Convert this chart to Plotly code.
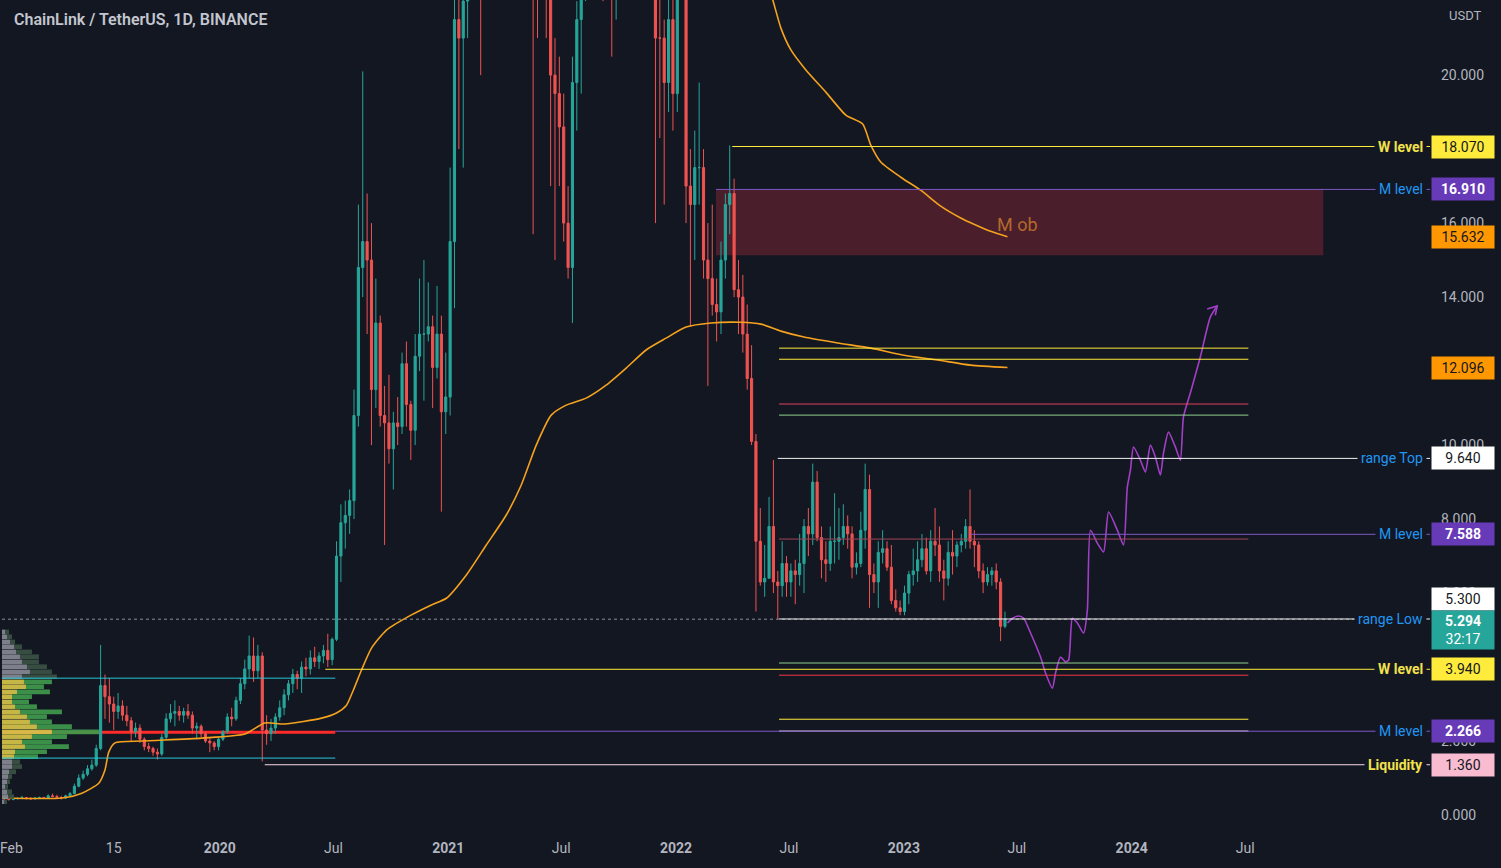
import plotly.graph_objects as go
import pandas as pd

BG = "#131722"

# ---------------- weekly candles LINK/USDT (weeks starting 2019-01-21) ----------------
first_open = 0.47
high_2019 = [.50, .45, .46, .48, .52, .49, .48, .47, .50, .49, .56, .58, .55, .52, .55,
             .62, .85, 1.10, 1.20, 1.35, 1.50, 1.90, 4.60, 3.80, 3.70, 3.20, 3.30, 3.10,
             2.95, 2.65, 2.50, 2.45, 2.10, 1.95, 1.85, 1.80, 2.20, 2.75, 3.00, 3.10, 2.95,
             2.90, 3.00, 2.80, 2.50, 2.45, 2.25, 2.10, 2.00, 2.10]
low_2019 = [.40, .39, .40, .42, .43, .42, .41, .42, .44, .44, .45, .48, .46, .42, .44,
            .50, .56, .75, .95, 1.05, 1.20, 1.30, 1.75, 2.60, 2.50, 2.30, 2.60, 2.55,
            2.40, 2.00, 2.10, 1.95, 1.75, 1.70, 1.60, 1.50, 1.60, 2.05, 2.50, 2.40, 2.55,
            2.50, 2.60, 2.20, 2.05, 2.10, 1.95, 1.70, 1.75, 1.75]
close_2019 = [.44, .42, .44, .45, .47, .45, .44, .46, .47, .46, .52, .50, .47, .46, .52,
              .58, .78, 1.00, 1.10, 1.25, 1.35, 1.80, 3.50, 3.20, 3.00, 2.80, 2.95, 2.70,
              2.55, 2.25, 2.35, 2.05, 1.85, 1.80, 1.70, 1.65, 2.10, 2.60, 2.75, 2.80, 2.70,
              2.80, 2.70, 2.35, 2.40, 2.20, 2.00, 1.95, 1.85, 2.05]

high_2020 = [2.30, 2.75, 2.90, 3.20, 3.70, 4.20, 4.85, 4.80, 4.60, 4.40, 2.70, 2.60, 2.75,
             3.10, 3.40, 3.65, 3.95, 3.90, 4.15, 4.25, 4.45, 4.55, 4.40, 4.60, 4.90, 4.80,
             7.40, 8.40, 8.50, 8.80, 11.50, 16.50, 20.10, 16.80, 16.00, 14.50, 13.50, 11.60, 11.90,
             10.90, 11.30, 12.50, 12.80, 11.20, 13.00, 14.50, 15.00, 14.40, 13.50, 14.30, 13.50, 12.50]
low_2020 = [2.00, 2.20, 2.40, 2.55, 3.00, 3.40, 3.70, 3.60, 3.70, 1.45, 1.90, 2.00, 2.20,
            2.55, 2.70, 3.10, 3.30, 3.40, 3.30, 3.75, 3.80, 4.00, 3.95, 4.10, 4.00, 4.05,
            4.70, 6.30, 7.20, 7.60, 8.00, 10.50, 14.00, 13.00, 10.00, 11.00, 10.50, 7.30, 9.50,
            8.80, 10.00, 10.30, 10.50, 9.60, 10.00, 12.00, 11.20, 12.80, 11.00, 11.80, 8.20, 10.30]
close_2020 = [2.25, 2.65, 2.60, 3.10, 3.55, 3.95, 4.30, 3.90, 4.30, 2.30, 2.20, 2.35, 2.65,
              2.90, 3.25, 3.55, 3.80, 3.70, 4.00, 3.95, 4.25, 4.15, 4.30, 4.45, 4.20, 4.75,
              7.00, 7.90, 8.10, 8.50, 10.80, 14.80, 15.50, 15.00, 11.50, 13.30, 10.80, 10.60, 9.90,
              10.60, 10.50, 12.20, 11.10, 10.40, 12.40, 13.00, 13.00, 13.20, 12.10, 13.00, 10.90, 11.30]

high_2021 = [17.50, 22.70, 25.00, 24.00, 28.00, 30.50, 36.50, 35.00, 32.00, 33.00, 32.00, 29.00, 32.00,
             33.00, 44.00, 40.50, 42.00, 50.00, 52.90, 46.00, 35.00, 36.00, 28.50, 27.00, 21.00, 20.50,
             19.50, 17.00, 20.50, 22.00, 24.00, 28.00, 27.50, 28.50, 34.50, 33.00, 30.00, 27.50, 28.50,
             29.50, 29.00, 31.00, 32.50, 35.00, 35.50, 31.00, 27.50, 29.00, 24.00, 21.50, 23.00, 25.00]
low_2021 = [10.80, 13.70, 18.00, 17.50, 21.00, 24.00, 27.00, 20.00, 25.00, 27.00, 26.50, 22.50, 27.50,
            28.50, 31.00, 25.00, 31.00, 38.00, 34.00, 15.70, 21.00, 24.00, 21.00, 17.00, 15.00, 17.00,
            15.50, 14.50, 13.30, 18.50, 19.50, 22.00, 23.00, 23.50, 24.50, 22.00, 25.50, 20.50, 21.50,
            24.00, 24.50, 25.00, 26.50, 28.00, 29.00, 24.00, 22.50, 16.00, 18.30, 16.50, 19.00, 18.50]
close_2021 = [15.50, 21.50, 21.00, 22.00, 26.00, 29.50, 33.00, 26.00, 30.00, 29.50, 27.50, 28.50, 30.50,
              32.50, 38.00, 33.00, 41.00, 45.00, 44.00, 30.50, 28.00, 27.00, 24.00, 20.00, 19.50, 18.60,
              16.00, 14.80, 19.80, 21.50, 23.00, 27.50, 25.00, 25.30, 30.00, 29.00, 27.00, 23.50, 26.50,
              27.00, 26.00, 28.00, 31.50, 33.50, 31.00, 24.50, 24.50, 21.00, 21.00, 19.80, 21.50, 19.50]

high_2022 = [27.50, 27.00, 25.50, 18.00, 18.50, 19.80, 18.00, 16.00, 16.50, 14.50, 15.50, 16.80, 18.10,
             17.20, 15.00, 14.60, 13.80, 12.70, 10.30, 8.30, 7.30, 8.60, 9.60, 6.60, 7.40, 7.00,
             6.80, 6.90, 7.60, 8.00, 8.30, 9.50, 9.30, 7.80, 7.40, 7.80, 8.70, 8.30, 8.40,
             8.10, 7.80, 7.10, 8.20, 9.50, 9.20, 6.80, 7.40, 7.70, 7.40, 7.30, 6.10, 5.80]
low_2022 = [19.00, 22.50, 16.00, 13.20, 15.00, 16.50, 14.50, 11.60, 13.50, 12.80, 13.00, 14.50, 15.70,
            14.00, 13.00, 12.50, 11.50, 10.00, 5.50, 6.20, 5.90, 6.40, 6.00, 5.30, 5.90, 5.90,
            5.90, 5.70, 6.20, 6.00, 7.00, 7.30, 7.40, 6.40, 6.30, 6.60, 6.80, 6.90, 7.30,
            7.20, 6.40, 6.50, 6.70, 7.20, 5.60, 6.00, 5.60, 6.80, 6.60, 5.70, 5.50, 5.40]
close_2022 = [24.00, 24.50, 17.00, 16.50, 17.50, 17.50, 15.00, 14.50, 13.80, 13.60, 15.00, 16.50, 16.80,
              14.20, 14.00, 13.00, 11.80, 10.10, 7.40, 6.30, 6.40, 7.80, 6.30, 6.20, 6.80, 6.30,
              6.60, 6.50, 6.80, 7.80, 7.60, 9.00, 7.50, 6.90, 6.80, 7.40, 7.40, 7.50, 7.80,
              7.60, 6.70, 6.80, 7.70, 8.80, 6.50, 6.30, 7.10, 7.20, 6.70, 5.80, 5.60, 5.50]

high_2023 = [6.20, 6.60, 7.20, 7.40, 7.60, 7.50, 7.70, 8.30, 7.80, 6.90, 7.40, 7.70, 7.40,
             7.60, 8.00, 8.80, 7.70, 7.40, 6.80, 6.70, 6.70, 6.80, 6.40, 5.50]
low_2023 = [5.40, 5.70, 6.20, 6.30, 6.70, 6.50, 6.30, 7.00, 6.30, 5.80, 6.20, 6.50, 6.70,
            7.10, 7.20, 7.20, 6.70, 6.40, 6.00, 6.20, 6.20, 6.10, 4.70, 5.05]
close_2023 = [6.00, 6.50, 6.60, 6.90, 7.20, 6.60, 7.40, 7.30, 6.60, 6.40, 7.10, 7.00, 7.30,
              7.40, 7.80, 7.40, 7.30, 6.60, 6.30, 6.50, 6.60, 6.30, 5.10, 5.294]

# ---------------- anchored VWAP lines ----------------
vwap_low_date = ["2019-01-17", "2019-04-23", "2019-05-25", "2019-06-21", "2019-07-01", "2019-07-07",
                 "2019-07-17", "2019-08-29", "2019-12-03", "2020-02-10", "2020-03-13", "2020-04-14",
                 "2020-06-12", "2020-07-06", "2020-07-22", "2020-08-02", "2020-08-15", "2020-08-31",
                 "2020-09-24", "2020-11-03", "2020-12-05", "2020-12-29", "2021-01-30", "2021-03-03",
                 "2021-04-04", "2021-04-28", "2021-05-22", "2021-06-15", "2021-07-09", "2021-08-10",
                 "2021-09-11", "2021-10-13", "2021-11-14", "2021-12-16", "2022-01-17", "2022-02-26",
                 "2022-04-15", "2022-05-17", "2022-06-18", "2022-07-25", "2022-09-17", "2022-11-09",
                 "2023-01-01", "2023-02-24", "2023-04-18", "2023-06-16"]
vwap_low = [0.46, 0.46, 0.59, 0.86, 1.22, 1.70, 1.95, 2.00, 2.08, 2.19, 2.49, 2.46,
            2.62, 2.76, 2.97, 3.38, 3.92, 4.51, 5.00, 5.41, 5.68, 5.86, 6.49, 7.30,
            8.11, 8.92, 10.00, 10.81, 11.08, 11.27, 11.62, 12.08, 12.57, 12.89, 13.19, 13.30,
            13.32, 13.27, 13.08, 12.92, 12.76, 12.62, 12.43, 12.30, 12.16, 12.096]
vwap_high_date = ["2022-05-25", "2022-06-05", "2022-06-18", "2022-07-04", "2022-07-28", "2022-08-29",
                  "2022-09-30", "2022-10-27", "2022-11-09", "2022-11-25", "2022-12-27", "2023-01-28",
                  "2023-03-01", "2023-04-02", "2023-04-26", "2023-05-20", "2023-06-16"]
vwap_high = [22.57, 22.03, 21.27, 20.68, 20.14, 19.54, 18.92, 18.68, 18.11, 17.65, 17.24, 16.89,
             16.46, 16.14, 15.95, 15.78, 15.632]

# ---------------- hand-drawn projection path ----------------
path_date = ["2023-06-16", "2023-06-24", "2023-07-04", "2023-07-12", "2023-07-23", "2023-08-08",
             "2023-08-16", "2023-08-27", "2023-09-01", "2023-09-09", "2023-09-17", "2023-09-22",
             "2023-09-28", "2023-10-06", "2023-10-16", "2023-10-22", "2023-10-27", "2023-11-07",
             "2023-11-17", "2023-11-25", "2023-12-09", "2023-12-19", "2023-12-25", "2023-12-30",
             "2024-01-04", "2024-01-15", "2024-01-23", "2024-01-31", "2024-02-08", "2024-02-16",
             "2024-02-21", "2024-02-29", "2024-03-11", "2024-03-19", "2024-03-24", "2024-04-04",
             "2024-04-20", "2024-05-06", "2024-05-17"]
path_price = [5.19, 5.32, 5.38, 5.32, 4.92, 4.27, 3.84, 3.43, 3.84, 4.27, 4.14, 4.19,
              5.32, 5.19, 4.92, 5.54, 7.70, 7.35, 7.11, 8.19, 7.70, 7.30, 8.86, 9.32,
              9.95, 9.59, 9.27, 10.00, 9.68, 9.19, 9.78, 10.35, 9.95, 9.59, 10.76, 11.41,
              12.38, 13.46, 13.76]
arrow_date = ["2024-05-01", "2024-05-17", "2024-05-14"]
arrow_price = [13.68, 13.76, 13.51]

# ---------------- fixed range volume profile (2019 - Jul 2020) ----------------
vp_price = [4.95, 4.82, 4.68, 4.55, 4.41, 4.28, 4.14, 4.01, 3.87, 3.74, 3.60, 3.47, 3.33, 3.20,
            3.06, 2.93, 2.79, 2.66, 2.52, 2.39, 2.25, 2.12, 1.98, 1.85, 1.71, 1.58, 1.44, 1.31,
            1.17, 1.04, 0.90, 0.77, 0.63, 0.50, 0.36]
vp_up = [3, 5, 8, 12, 14, 18, 20, 25, 28, 20, 22, 24, 15, 10, 10, 13, 18, 25, 28, 35, 50, 30,
         20, 23, 13, 12, 10, 10, 7, 6, 5, 3, 5, 6, 2]
vp_down = [4, 5, 5, 8, 16, 19, 17, 20, 22, 35, 28, 18, 33, 20, 17, 22, 42, 20, 22, 35, 47, 35,
           30, 44, 32, 24, 8, 10, 7, 4, 3, 3, 5, 6, 3]
vah, val, poc = 3.70, 1.54, 2.24

# ---------------- horizontal levels ----------------
lvl_price = [18.07, 16.91, 12.62, 12.32, 11.11, 10.81, 9.64, 7.588, 7.46, 5.30,
             4.11, 3.94, 3.78, 2.59, 2.27, 2.266, 1.36]
lvl_start = ["2022-04-01", "2022-03-06", "2022-06-15", "2022-06-15", "2022-06-15", "2022-06-15",
             "2022-06-13", "2023-04-18", "2022-06-15", "2022-06-15", "2022-06-15", "2020-06-18",
             "2022-06-15", "2022-06-15", "2022-06-15", "2020-07-04", "2020-03-13"]
lvl_end = ["2025-04-23", "2025-04-23", "2024-07-06", "2024-07-06", "2024-07-06", "2024-07-06",
           "2025-04-23", "2025-04-23", "2024-07-06", "2025-04-23", "2024-07-06", "2025-04-23",
           "2024-07-06", "2024-07-06", "2024-07-06", "2025-04-23", "2025-04-23"]
lvl_color = ["#ffeb3b", "#7e57c2", "#ffeb3b", "#ffeb3b", "#e0435b", "#8fd18f", "#f0f0f0", "#7e57c2",
             "#a0465a", "#f0f0f0", "#8fd18f", "#ffeb3b", "#f23645", "#ffeb3b", "#f0f0f0", "#7e57c2",
             "#f8d7e3"]
ob_top, ob_bottom = 16.91, 15.13
ob_start, ob_end = "2022-03-06", "2024-11-03"
frvp_start, frvp_end = "2019-01-17", "2020-07-04"
last_price = 5.294

# axis price tags
tag_value = [18.070, 16.910, 15.632, 12.096, 9.640, 7.588, 3.940, 2.266, 1.360]
tag_bg = ["#ffeb3b", "#673ab7", "#ff9800", "#ff9800", "#ffffff", "#673ab7", "#ffeb3b", "#673ab7", "#f8bbd0"]
tag_fg = ["#131722", "#ffffff", "#131722", "#131722", "#131722", "#ffffff", "#131722", "#ffffff", "#131722"]
name_value = [18.07, 16.91, 9.64, 7.588, 5.30, 3.94, 2.266, 1.36]
name_text = ["W level", "M level", "range Top", "M level", "range Low", "W level", "M level", "Liquidity"]
name_color = ["#f2e14c", "#2196f3", "#2196f3", "#2196f3", "#2196f3", "#f2e14c", "#2196f3", "#f2e14c"]

x_tickvals = ["2019-02-01", "2019-07-15", "2020-01-01", "2020-07-01", "2021-01-01", "2021-07-01",
              "2022-01-01", "2022-07-01", "2023-01-01", "2023-07-01", "2024-01-01", "2024-07-01"]
x_ticktext = ["Feb", "15", "<b>2020</b>", "Jul", "<b>2021</b>", "Jul", "<b>2022</b>", "Jul",
              "<b>2023</b>", "Jul", "<b>2024</b>", "Jul"]
# price ticks that are not hidden behind a price tag
y_tickvals = [0, 2, 6, 8, 10, 14, 16, 20]

# ================= build =================
high = high_2019 + high_2020 + high_2021 + high_2022 + high_2023
low = low_2019 + low_2020 + low_2021 + low_2022 + low_2023
close = close_2019 + close_2020 + close_2021 + close_2022 + close_2023
opens = [first_open] + close[:-1]
dates = pd.date_range("2019-01-21", periods=len(close), freq="7D")

X_RANGE = ["2019-01-17", "2025-04-23"]
FONT = "Roboto, 'Open Sans', sans-serif"

fig = go.Figure()
fig.add_trace(go.Candlestick(
    x=dates, open=opens, high=high, low=low, close=close,
    increasing=dict(line=dict(color="#26a69a", width=1), fillcolor="#26a69a"),
    decreasing=dict(line=dict(color="#ef5350", width=1), fillcolor="#ef5350"),
    whiskerwidth=0, hoverinfo="skip", showlegend=False))

fig.add_trace(go.Scatter(x=vwap_low_date, y=vwap_low, mode="lines", hoverinfo="skip",
                         line=dict(color="#f5a21e", width=1.6, shape="spline", smoothing=0.6)))
fig.add_trace(go.Scatter(x=vwap_high_date, y=vwap_high, mode="lines", hoverinfo="skip",
                         line=dict(color="#f5a21e", width=1.6, shape="spline", smoothing=0.6)))
fig.add_trace(go.Scatter(x=path_date, y=path_price, mode="lines", hoverinfo="skip",
                         line=dict(color="#a23fc7", width=1.6, shape="spline", smoothing=0.6)))
fig.add_trace(go.Scatter(x=arrow_date, y=arrow_price, mode="lines", hoverinfo="skip",
                         line=dict(color="#a23fc7", width=1.6)))

in_va = [val <= p <= vah for p in vp_price]
up_cols = ["#d6c44a" if v else "#868993" for v in in_va]
dn_cols = ["#3f9a4c" if v else "#3b5244" for v in in_va]
fig.add_trace(go.Bar(y=vp_price, x=vp_up, base=0, orientation="h", xaxis="x2", yaxis="y",
                     width=0.125, marker=dict(color=up_cols, line_width=0), opacity=0.92,
                     hoverinfo="skip"))
fig.add_trace(go.Bar(y=vp_price, x=vp_down, base=vp_up, orientation="h", xaxis="x2", yaxis="y",
                     width=0.125, marker=dict(color=dn_cols, line_width=0), opacity=0.92,
                     hoverinfo="skip"))

shapes = []
shapes.append(dict(type="rect", xref="x", yref="y", x0=ob_start, x1=ob_end, y0=ob_bottom, y1=ob_top,
                   fillcolor="#4a1e2a", line=dict(width=0), layer="below"))
shapes.append(dict(type="line", xref="x", yref="y", x0=frvp_start, x1=frvp_end, y0=poc, y1=poc,
                   line=dict(color="#ff2b2b", width=3), layer="below"))
shapes.append(dict(type="line", xref="x", yref="y", x0=frvp_start, x1=frvp_end, y0=vah, y1=vah,
                   line=dict(color="#26c6da", width=1)))
shapes.append(dict(type="line", xref="x", yref="y", x0=frvp_start, x1=frvp_end, y0=val, y1=val,
                   line=dict(color="#26c6da", width=1)))
shapes.append(dict(type="line", xref="x", yref="y", x0=X_RANGE[0], x1=X_RANGE[1], y0=last_price,
                   y1=last_price, line=dict(color="#8b8f99", width=1, dash="dot")))
for p, s, e, c in zip(lvl_price, lvl_start, lvl_end, lvl_color):
    shapes.append(dict(type="line", xref="x", yref="y", x0=s, x1=e, y0=p, y1=p,
                       line=dict(color=c, width=1)))

ann = []
ann.append(dict(text="ChainLink / TetherUS, 1D, BINANCE", xref="paper", yref="paper", x=0.007, y=0.977,
                xanchor="left", yanchor="middle", showarrow=False,
                font=dict(family=FONT, size=16, color="#c3c6ce", weight=600)))
ann.append(dict(text="USDT", xref="paper", yref="paper", x=1.0252, y=0.982, xanchor="center",
                yanchor="middle", showarrow=False, font=dict(family=FONT, size=13, color="#b2b5be")))
ann.append(dict(text="M ob", xref="x", yref="y", x="2023-07-02", y=15.95, showarrow=False,
                font=dict(family=FONT, size=18, color="#b4682c")))
for v, t, c in zip(name_value, name_text, name_color):
    bold = c == "#f2e14c"
    ann.append(dict(text=t, xref="paper", yref="y", x=0.9979, y=v, xanchor="right", yanchor="middle",
                    showarrow=False, bgcolor=BG, borderpad=3,
                    font=dict(family=FONT, size=14, color=c, weight="bold" if bold else "normal")))
for v, bg, fg in zip(tag_value, tag_bg, tag_fg):
    ann.append(dict(text=f"{v:.3f}", xref="paper", yref="y", x=1.0007, y=v, xanchor="left",
                    yanchor="middle", showarrow=False, bgcolor=bg, borderpad=3, width=56, align="center",
                    font=dict(family=FONT, size=14, color=fg,
                              weight="bold" if fg == "#ffffff" else "normal")))
ann.append(dict(text=f"{5.300:.3f}", xref="paper", yref="y", x=1.0007, y=5.30, xanchor="left",
                yanchor="middle", yshift=20, showarrow=False, bgcolor="#ffffff", borderpad=3, width=56,
                align="center", font=dict(family=FONT, size=14, color="#131722")))
ann.append(dict(text=f"<b>{last_price:.3f}</b><br>32:17", xref="paper", yref="y", x=1.0007, y=last_price,
                xanchor="left", yanchor="top", yshift=9, showarrow=False, bgcolor="#26a69a", borderpad=2,
                width=58, align="center", font=dict(family=FONT, size=14, color="#ffffff")))

fig.update_layout(
    width=1501, height=868,
    paper_bgcolor=BG, plot_bgcolor=BG,
    margin=dict(l=0, r=71, t=0, b=30),
    showlegend=False, hovermode=False, barmode="overlay",
    font=dict(family=FONT, color="#b2b5be"),
    xaxis=dict(type="date", range=X_RANGE, showgrid=False, zeroline=False, showline=False,
               rangeslider=dict(visible=False), tickmode="array", tickvals=x_tickvals,
               ticktext=x_ticktext, tickfont=dict(size=14, color="#b2b5be", family=FONT),
               ticks="", ticklabeloverflow="allow"),
    xaxis2=dict(overlaying="x", range=[0, 1430], visible=False, anchor="y"),
    yaxis=dict(side="right", range=[-0.62, 22.03], showgrid=False, zeroline=False, showline=False,
               tickmode="array", tickvals=y_tickvals, tickformat=".3f", ticks="",
               ticklabelstandoff=10, tickfont=dict(size=14, color="#b2b5be", family=FONT)),
    shapes=shapes, annotations=ann,
)

fig.write_html("out.html", config={"displayModeBar": False},
               post_script="document.body.style.margin='0px';")
